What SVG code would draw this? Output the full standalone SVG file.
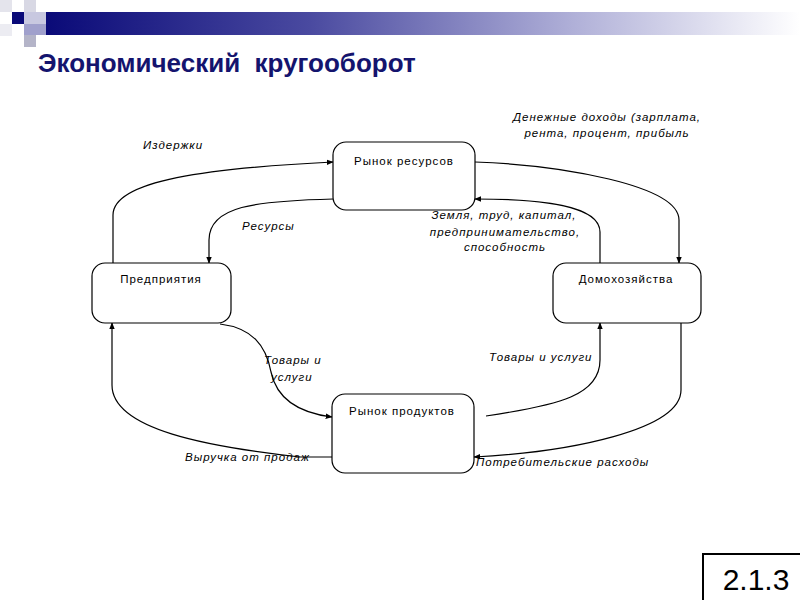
<svg xmlns="http://www.w3.org/2000/svg" width="800" height="600" viewBox="0 0 800 600">
<defs>
<linearGradient id="bar" x1="0" y1="0" x2="1" y2="0">
<stop offset="0" stop-color="#0a0a78"/>
<stop offset="0.35" stop-color="#4a4aa0"/>
<stop offset="0.7" stop-color="#b0b0d8"/>
<stop offset="1" stop-color="#ffffff"/>
</linearGradient>
<marker id="arr" viewBox="0 0 10 10" refX="9" refY="5" markerWidth="7" markerHeight="7" orient="auto-start-reverse" markerUnits="userSpaceOnUse">
<path d="M0,1 L10,5 L0,9 z" fill="#000"/>
</marker>
<style>
.box{fill:#fff;stroke:#000;stroke-width:1.2}
.bl{font-family:"Liberation Sans",Arial,sans-serif;font-size:11.5px;letter-spacing:1px;fill:#000;text-anchor:middle}
.lb{font-family:"Liberation Sans",Arial,sans-serif;font-size:11.5px;font-style:italic;letter-spacing:1px;fill:#000}
.c{fill:none;stroke:#000;stroke-width:1.2}
</style>
</defs>
<rect width="800" height="600" fill="#fff"/>
<g id="decor">
<rect x="46" y="12" width="754" height="23" fill="url(#bar)"/>
<rect x="0" y="0" width="12" height="12" fill="#e4e4ec"/>
<rect x="24" y="0" width="12" height="12" fill="#d8d8e4"/>
<rect x="12" y="12" width="12" height="12" fill="#0a0a78"/>
<rect x="24" y="12" width="22" height="12" fill="#c8c8e0"/>
<rect x="24" y="24" width="22" height="11" fill="#a0a0cc"/>
<rect x="24" y="35" width="12" height="12" fill="#b4b4c8"/>
<rect x="0" y="24" width="12" height="12" fill="#ececf2"/>
</g>
<text x="38" y="72" font-family="Liberation Sans,Arial,sans-serif" font-size="26" font-weight="bold" fill="#14146e" xml:space="preserve">Экономический  кругооборот</text>
<g id="connectors">
<path class="c" d="M113,263 L113,215 C113,180 210,168 333,162" marker-end="url(#arr)"/>
<path class="c" d="M333,199 C255,201 209,206 209,240 L209,263" marker-end="url(#arr)"/>
<path class="c" d="M475,162 C560,165 679,185 679,220 L679,263" marker-end="url(#arr)"/>
<path class="c" d="M600,263 L600,232 C600,205 540,199 475,199" marker-end="url(#arr)"/>
<path class="c" d="M220,324 C252,328 266,345 271,372 C277,400 300,413 332,417" marker-end="url(#arr)"/>
<path class="c" d="M332,457 L300,457 C210,447 112,430 112,385 L112,323" marker-end="url(#arr)"/>
<path class="c" d="M486,416 C560,405 600,395 600,360 L600,323" marker-end="url(#arr)"/>
<path class="c" d="M681,323 L681,390 C681,430 570,452 474,457" marker-end="url(#arr)"/>
</g>
<g id="n-resource-market">
<rect class="box" x="333" y="142" width="142" height="68" rx="13"/>
<text class="bl" x="404" y="165">Рынок ресурсов</text>
</g>
<g id="n-firms">
<rect class="box" x="92" y="263" width="139" height="60" rx="13"/>
<text class="bl" x="161" y="283">Предприятия</text>
</g>
<g id="n-households">
<rect class="box" x="553" y="263" width="148" height="60" rx="13"/>
<text class="bl" x="626" y="283">Домохозяйства</text>
</g>
<g id="n-product-market">
<rect class="box" x="332" y="394" width="142" height="79" rx="13"/>
<text class="bl" x="402" y="415">Рынок продуктов</text>
</g>
<g id="labels">
<text class="lb" x="143" y="149">Издержки</text>
<text class="lb" x="242" y="230">Ресурсы</text>
<text class="lb" x="607" y="121" text-anchor="middle">Денежные доходы (зарплата,</text>
<text class="lb" x="607" y="137" text-anchor="middle">рента, процент, прибыль</text>
<text class="lb" x="504" y="219" text-anchor="middle">Земля, труд, капитал,</text>
<text class="lb" x="505" y="236" text-anchor="middle">предпринимательство,</text>
<text class="lb" x="505" y="251" text-anchor="middle">способность</text>
<text class="lb" x="264" y="364">Товары и</text>
<text class="lb" x="271" y="381">услуги</text>
<text class="lb" x="489" y="361">Товары и услуги</text>
<text class="lb" x="185" y="461">Выручка от продаж</text>
<text class="lb" x="476" y="466">Потребительские расходы</text>
</g>
<g id="page-number">
<path d="M703,600 L703,554 L800,554" fill="none" stroke="#000" stroke-width="2"/>
<text x="756" y="590" font-family="Liberation Sans,Arial,sans-serif" font-size="30" text-anchor="middle" fill="#000">2.1.3</text>
</g>
</svg>
